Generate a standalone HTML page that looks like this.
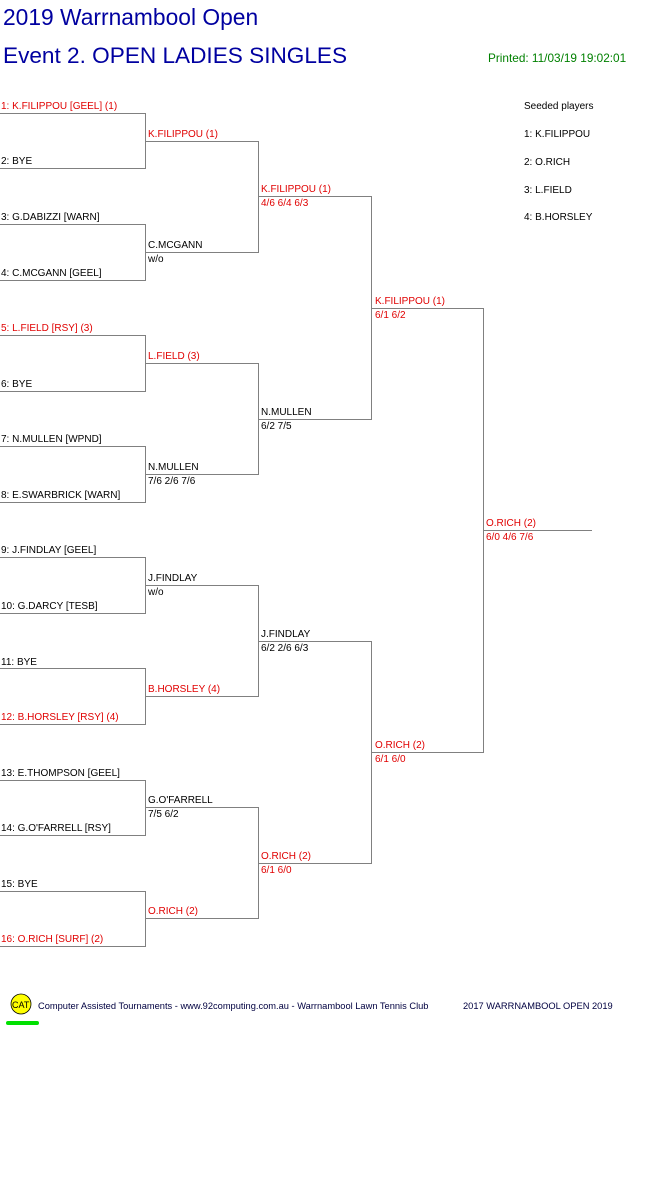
<!DOCTYPE html>
<html><head><meta charset="utf-8"><style>
html,body{margin:0;padding:0;background:#fff;width:661px;height:1196px;overflow:hidden}
svg{display:block}
text{font-family:"Liberation Sans",Arial,sans-serif;font-size:10px;fill:#000}
.r{fill:#e00000}
</style></head><body>
<svg width="661" height="1196" xmlns="http://www.w3.org/2000/svg">
<text x="3" y="25" style="font-size:22.8px;fill:#0000a0">2019 Warrnambool Open</text>
<text x="3" y="63" style="font-size:22.6px;fill:#0000a0">Event 2. OPEN LADIES SINGLES</text>
<text x="488" y="62" style="font-size:11.8px;fill:#008000">Printed: 11/03/19 19:02:01</text>
<text x="524" y="109">Seeded players</text>
<text x="524" y="137">1: K.FILIPPOU</text>
<text x="524" y="165">2: O.RICH</text>
<text x="524" y="193">3: L.FIELD</text>
<text x="524" y="220">4: B.HORSLEY</text>
<g stroke="#808080" stroke-width="1" fill="none">
<path d="M0 113.5H145.5V168.5H0M0 224.5H145.5V280.5H0M0 335.5H145.5V391.5H0M0 446.5H145.5V502.5H0M0 557.5H145.5V613.5H0M0 668.5H145.5V724.5H0M0 780.5H145.5V835.5H0M0 891.5H145.5V946.5H0"/>
<path d="M145 141.5H258.5V252.5H145M145 363.5H258.5V474.5H145M145 585.5H258.5V696.5H145M145 807.5H258.5V918.5H145"/>
<path d="M258 196.5H371.5V419.5H258M258 641.5H371.5V863.5H258"/>
<path d="M371 308.5H483.5V752.5H371"/>
<path d="M483 530.5H592"/>
</g>
<text x="1" y="109" class="r">1: K.FILIPPOU [GEEL] (1)</text>
<text x="1" y="164">2: BYE</text>
<text x="1" y="220">3: G.DABIZZI [WARN]</text>
<text x="1" y="276">4: C.MCGANN [GEEL]</text>
<text x="1" y="331" class="r">5: L.FIELD [RSY] (3)</text>
<text x="1" y="387">6: BYE</text>
<text x="1" y="442">7: N.MULLEN [WPND]</text>
<text x="1" y="498">8: E.SWARBRICK [WARN]</text>
<text x="1" y="553">9: J.FINDLAY [GEEL]</text>
<text x="1" y="609">10: G.DARCY [TESB]</text>
<text x="1" y="665">11: BYE</text>
<text x="1" y="720" class="r">12: B.HORSLEY [RSY] (4)</text>
<text x="1" y="776">13: E.THOMPSON [GEEL]</text>
<text x="1" y="831">14: G.O'FARRELL [RSY]</text>
<text x="1" y="887">15: BYE</text>
<text x="1" y="942" class="r">16: O.RICH [SURF] (2)</text>

<text x="148" y="137" class="r">K.FILIPPOU (1)</text>
<text x="148" y="248">C.MCGANN</text><text x="148" y="262">w/o</text>
<text x="148" y="359" class="r">L.FIELD (3)</text>
<text x="148" y="470">N.MULLEN</text><text x="148" y="484">7/6 2/6 7/6</text>
<text x="148" y="581">J.FINDLAY</text><text x="148" y="595">w/o</text>
<text x="148" y="692" class="r">B.HORSLEY (4)</text>
<text x="148" y="803">G.O'FARRELL</text><text x="148" y="817">7/5 6/2</text>
<text x="148" y="914" class="r">O.RICH (2)</text>

<text x="261" y="192" class="r">K.FILIPPOU (1)</text><text x="261" y="206" class="r">4/6 6/4 6/3</text>
<text x="261" y="415">N.MULLEN</text><text x="261" y="429">6/2 7/5</text>
<text x="261" y="637">J.FINDLAY</text><text x="261" y="651">6/2 2/6 6/3</text>
<text x="261" y="859" class="r">O.RICH (2)</text><text x="261" y="873" class="r">6/1 6/0</text>

<text x="375" y="304" class="r">K.FILIPPOU (1)</text><text x="375" y="318" class="r">6/1 6/2</text>
<text x="375" y="748" class="r">O.RICH (2)</text><text x="375" y="762" class="r">6/1 6/0</text>

<text x="486" y="526" class="r">O.RICH (2)</text><text x="486" y="540" class="r">6/0 4/6 7/6</text>

<circle cx="21" cy="1004" r="10" fill="#ffff00" stroke="#000" stroke-width="0.8"/>
<text x="12" y="1008" style="font-size:9px">CAT</text>
<rect x="6" y="1021" width="33" height="4" rx="2" fill="#00e000"/>
<text x="38" y="1009" style="font-size:9.3px;fill:#000040">Computer Assisted Tournaments - www.92computing.com.au -  Warrnambool Lawn Tennis Club</text>
<text x="463" y="1009" style="font-size:9.3px;fill:#000040">2017 WARRNAMBOOL OPEN 2019</text>
</svg>
</body></html>
